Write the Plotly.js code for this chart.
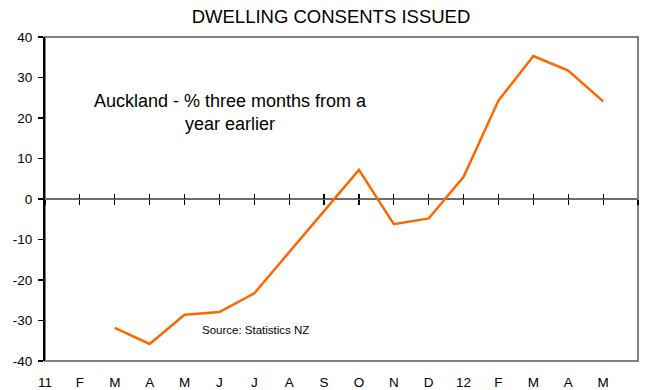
<!DOCTYPE html>
<html>
<head>
<meta charset="utf-8">
<script src="https://cdn.plot.ly/plotly-3.0.1.min.js"></script>
<style>
  html, body { margin: 0; padding: 0; background: #fff; }
  #chart { width: 647px; height: 390px; }
</style>
</head>
<body>
<div id="chart"></div>
<script>
// Month labels, Jan 2011 to May 2012
const monthLabels = ['11', 'F', 'M', 'A', 'M', 'J', 'J', 'A', 'S', 'O', 'N', 'D', '12', 'F', 'M', 'A', 'M'];
// Auckland dwelling consents, % change three months vs a year earlier
const consentsChange = [null, null, -31.8, -35.8, -28.6, -27.9, -23.3, -13.1, -3.0, 7.2, -6.2, -4.8, 5.5, 24.3, 35.3, 31.7, 24.1];
// Y axis ticks and their labels
const yTickValues = [40, 30, 20, 10, 0, -10, -20, -30, -40];
const yTickLabels = ['40', '30', '20', '10', '0', '-10', '-20', '-30', '-40'];

const monthIndex = monthLabels.map((_, i) => i);
const FONT = 'Liberation Sans, Arial, sans-serif';

const series = {
  x: monthIndex,
  y: consentsChange,
  type: 'scatter',
  mode: 'lines',
  line: { color: '#FF6600', width: 2.5 },
  connectgaps: false,
  hoverinfo: 'skip',
  showlegend: false
};

// Invisible copies so the tick axes drawn on the zero line get a subplot
const tickCarrier = (ax) => ({
  x: monthIndex, y: consentsChange, xaxis: ax, yaxis: 'y',
  type: 'scatter', mode: 'lines', line: { width: 0 }, opacity: 0,
  hoverinfo: 'skip', showlegend: false
});

const xRange = [0, monthLabels.length];

const layout = {
  width: 647,
  height: 390,
  margin: { l: 45, r: 9, t: 37, b: 29, pad: 0 },
  paper_bgcolor: '#ffffff',
  plot_bgcolor: '#ffffff',
  font: { family: FONT, size: 13, color: '#000' },
  showlegend: false,
  title: {
    text: 'DWELLING CONSENTS ISSUED',
    font: { family: FONT, size: 18.5, color: '#000' },
    xref: 'container', x: 331 / 647, xanchor: 'center',
    yref: 'container', y: 1 - 17 / 390, yanchor: 'middle'
  },
  xaxis: {
    range: xRange,
    tickmode: 'array',
    tickvals: monthIndex,
    ticktext: monthLabels,
    ticks: 'outside',
    ticklen: 9,
    tickcolor: 'rgba(0,0,0,0)',
    showgrid: false,
    zeroline: false,
    showline: false,
    tickfont: { family: FONT, size: 13.5, color: '#000' },
    fixedrange: true
  },
  xaxis2: {
    range: xRange, overlaying: 'x', anchor: 'free', position: 0.5,
    tickmode: 'array', tickvals: monthIndex.concat([monthLabels.length]),
    ticks: 'outside', ticklen: 5, tickwidth: 1.2, tickcolor: '#000',
    showticklabels: false, showgrid: false, zeroline: false, showline: false
  },
  xaxis3: {
    range: xRange, overlaying: 'x', anchor: 'free', position: 0.5,
    tickmode: 'array', tickvals: monthIndex.concat([monthLabels.length]),
    ticks: 'inside', ticklen: 5, tickwidth: 1.2, tickcolor: '#000',
    showticklabels: false, showgrid: false, zeroline: false, showline: false
  },
  yaxis: {
    range: [-40, 40],
    tickmode: 'array',
    tickvals: yTickValues,
    ticktext: yTickLabels,
    ticks: 'outside',
    ticklen: 5,
    tickwidth: 1.2,
    tickcolor: '#000',
    ticklabelstandoff: 3,
    showline: true,
    linecolor: '#000',
    linewidth: 2,
    showgrid: false,
    zeroline: true,
    zerolinecolor: '#6e6e6e',
    zerolinewidth: 2,
    tickfont: { family: FONT, size: 13.5, color: '#000' },
    fixedrange: true
  },
  shapes: [
    {
      type: 'rect', xref: 'paper', yref: 'paper',
      x0: 0, x1: 1, y0: 0, y1: 1,
      line: { color: '#808080', width: 2 },
      layer: 'below'
    }
  ],
  annotations: [
    {
      xref: 'paper', yref: 'paper',
      x: (230 - 45) / 593, y: (361 - 112) / 324,
      xanchor: 'center', yanchor: 'middle',
      text: 'Auckland - % three months from a<br>year earlier',
      align: 'center',
      showarrow: false,
      font: { family: FONT, size: 18, color: '#000' }
    },
    {
      xref: 'paper', yref: 'paper',
      x: (256 - 45) / 593, y: (361 - 330) / 324,
      xanchor: 'center', yanchor: 'middle',
      text: 'Source: Statistics NZ',
      showarrow: false,
      font: { family: FONT, size: 11.5, color: '#000' }
    }
  ]
};

Plotly.newPlot('chart', [series, tickCarrier('x2'), tickCarrier('x3')], layout, { staticPlot: true, displayModeBar: false });
</script>
</body>
</html>
